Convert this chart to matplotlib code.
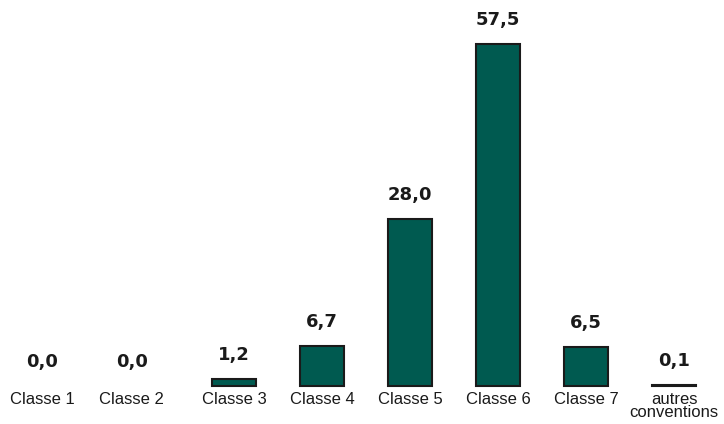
import matplotlib
matplotlib.use("Agg")
import matplotlib.pyplot as plt

categories = ["Classe 1", "Classe 2", "Classe 3", "Classe 4", "Classe 5",
              "Classe 6", "Classe 7", "autres\nconventions"]
values = [0.0, 0.0, 1.2, 6.7, 28.0, 57.5, 6.5, 0.1]
positions = [-0.18, 0.84, 2, 3, 4, 5, 6, 7]

fig = plt.figure(figsize=(7.24, 4.24), dpi=100)
ax = fig.add_axes([0, 0, 1, 1])

shown = [(p, v) for p, v in zip(positions, values) if v > 0]
ax.bar([p for p, _ in shown], [v for _, v in shown], width=0.5,
       color="#005a50", edgecolor="#1a1a1a", linewidth=1.5)

for p, v, name in zip(positions, values, categories):
    ax.annotate(f"{v:.1f}".replace(".", ","), xy=(p, v), xytext=(0, 11),
                textcoords="offset points", ha="center", va="bottom",
                fontsize=13, fontweight="heavy", color="#1a1a1a")
    ax.annotate(name, xy=(p, 0), xytext=(0, -4), textcoords="offset points",
                ha="center", va="top", fontsize=12, color="#1a1a1a",
                family="Liberation Sans", linespacing=0.9)

ax.set_xlim(-0.659, 7.568)
ax.set_ylim(-6.39, 64.9)
ax.axis("off")

fig.savefig("out.png", dpi=100)
